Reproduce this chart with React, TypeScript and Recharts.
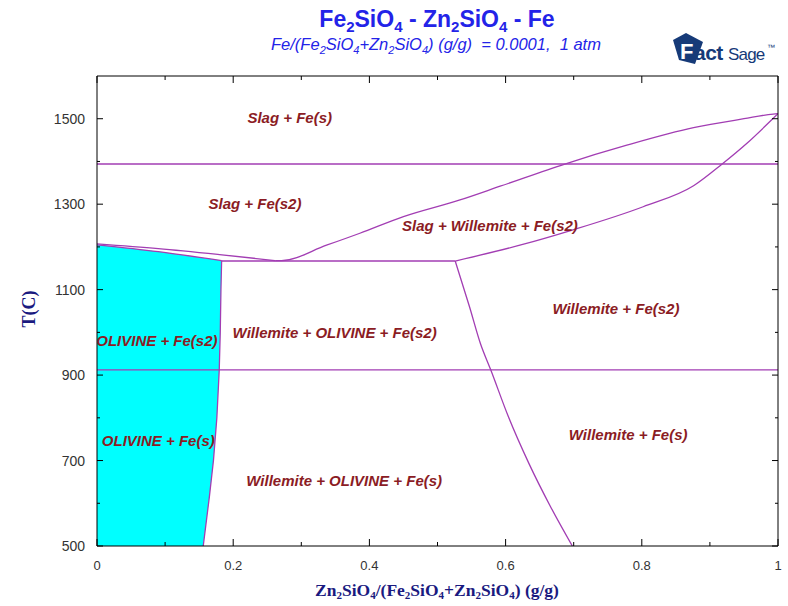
import React from 'react';
import { ComposedChart, Line, Area, Scatter, XAxis, YAxis } from 'recharts';

const ticksX = [0, 0.1, 0.2, 0.3, 0.4, 0.5, 0.6, 0.7, 0.8, 0.9, 1];
const ticksY = [500, 600, 700, 800, 900, 1000, 1100, 1200, 1300, 1400, 1500];

const gammaDeltaLine = [{ x: 0, t: 1394 }, { x: 1, t: 1394 }];
const alphaGammaLine = [{ x: 0, t: 912 }, { x: 1, t: 912 }];
const eutecticLine = [{ x: 0.183, t: 1167 }, { x: 0.526, t: 1167 }];
const olivineLiquidus = [
  { x: 0, t: 1207 }, { x: 0.09, t: 1196 }, { x: 0.18, t: 1182 }, { x: 0.262, t: 1168 },
];
const olivineSolidus = [
  { x: 0, t: 1205 }, { x: 0.09, t: 1189 }, { x: 0.183, t: 1168 },
];
const olivineSolvus = [
  { x: 0.183, t: 1168 }, { x: 0.182, t: 1100 }, { x: 0.181, t: 1000 }, { x: 0.1795, t: 912 },
  { x: 0.176, t: 800 }, { x: 0.171, t: 700 }, { x: 0.165, t: 615 }, { x: 0.156, t: 500 },
];
const olivineRegion = [
  { x: 0, t: 1205 }, { x: 0.09, t: 1189 }, { x: 0.183, t: 1168 }, { x: 0.182, t: 1100 },
  { x: 0.181, t: 1000 }, { x: 0.1795, t: 912 }, { x: 0.176, t: 800 }, { x: 0.171, t: 700 },
  { x: 0.165, t: 615 }, { x: 0.156, t: 500 },
];
const willemiteLiquidus = [
  { x: 0.262, t: 1168 }, { x: 0.271, t: 1168 }, { x: 0.337, t: 1204 }, { x: 0.386, t: 1232 },
  { x: 0.45, t: 1271 }, { x: 0.533, t: 1310 }, { x: 0.592, t: 1342 }, { x: 0.687, t: 1394 },
  { x: 0.778, t: 1438 }, { x: 0.876, t: 1479 }, { x: 0.95, t: 1500 }, { x: 0.993, t: 1511 },
  { x: 1, t: 1512 },
];
const willemiteSolidus = [
  { x: 0.526, t: 1167 }, { x: 0.621, t: 1204 }, { x: 0.699, t: 1240 }, { x: 0.802, t: 1294 },
  { x: 0.876, t: 1343 }, { x: 0.918, t: 1394 }, { x: 0.954, t: 1442 }, { x: 0.993, t: 1501 },
  { x: 1, t: 1512 },
];
const olivineWillemiteBoundary = [
  { x: 0.526, t: 1167 }, { x: 0.547, t: 1060 }, { x: 0.563, t: 974 }, { x: 0.578, t: 913 },
  { x: 0.604, t: 803 }, { x: 0.634, t: 694 }, { x: 0.666, t: 592 }, { x: 0.698, t: 500 },
];
const phaseLabels = [
  { x: 0.283, t: 1502, text: 'Slag + Fe(s)' },
  { x: 0.232, t: 1300, text: 'Slag + Fe(s2)' },
  { x: 0.577, t: 1249, text: 'Slag + Willemite + Fe(s2)' },
  { x: 0.762, t: 1055, text: 'Willemite + Fe(s2)' },
  { x: 0.088, t: 980, text: 'OLIVINE + Fe(s2)' },
  { x: 0.349, t: 998, text: 'Willemite + OLIVINE + Fe(s2)' },
  { x: 0.09, t: 746, text: 'OLIVINE + Fe(s)' },
  { x: 0.78, t: 760, text: 'Willemite + Fe(s)' },
  { x: 0.363, t: 652, text: 'Willemite + OLIVINE + Fe(s)' },
];

const PURPLE = '#A23DB3';
const LABEL_RED = '#8B1C24';
const NAVY = '#163A78';
const SANS = '"Liberation Sans", Arial, sans-serif';
const SERIF = '"Liberation Serif", "Times New Roman", serif';

const isMajorX = (v: number) => Math.round(v * 10) % 2 === 0;
const isMajorY = (v: number) => (Math.round(v) - 500) % 200 === 0;
const fmtX = (v: number) => (v === 0 ? '0' : v === 1 ? '1' : v.toFixed(1));

const BottomTick = (props: any) => {
  const { x, y, payload } = props;
  const v = payload.value;
  const major = isMajorX(v);
  return (
    <g>
      <line x1={x} x2={x} y1={y} y2={y - (major ? 7 : 4)} stroke="#000" />
      {major && (
        <text x={x} y={y + 24} textAnchor="middle" fontFamily={SANS} fontSize={13} fill="#333">
          {fmtX(v)}
        </text>
      )}
    </g>
  );
};
const TopTick = (props: any) => {
  const { x, y, payload } = props;
  const major = isMajorX(payload.value);
  return <line x1={x} x2={x} y1={y} y2={y + (major ? 7 : 4)} stroke="#000" />;
};
const LeftTick = (props: any) => {
  const { x, y, payload } = props;
  const v = payload.value;
  const major = isMajorY(v);
  return (
    <g>
      <line x1={x} x2={x + (major ? 6 : 3)} y1={y} y2={y} stroke="#000" />
      {major && (
        <text x={x - 12} y={y + 5} textAnchor="end" fontFamily={SANS} fontSize={14} fill="#333">
          {v}
        </text>
      )}
    </g>
  );
};
const RightTick = (props: any) => {
  const { x, y, payload } = props;
  const major = isMajorY(payload.value);
  return <line x1={x} x2={x - (major ? 6 : 3)} y1={y} y2={y} stroke="#000" />;
};

const LabelShape = (props: any) => {
  const { cx, cy, payload } = props;
  return (
    <text
      x={cx}
      y={cy + 5}
      textAnchor="middle"
      fontFamily={SANS}
      fontSize={15}
      fontWeight="bold"
      fontStyle="italic"
      fill={LABEL_RED}
    >
      {payload.text}
    </text>
  );
};

const straightBoundaries = [gammaDeltaLine, alphaGammaLine, eutecticLine, olivineSolvus];
const smoothBoundaries = [
  olivineLiquidus,
  olivineSolidus,
  willemiteLiquidus,
  willemiteSolidus,
  olivineWillemiteBoundary,
];

export default function App() {
  return (
    <div style={{ position: 'absolute', left: 0, top: 0, width: 788, height: 606, background: '#fff' }}>
      <ComposedChart width={788} height={606} margin={{ top: 75, right: 9, bottom: 30, left: 47 }}>
        <XAxis
          xAxisId="b"
          dataKey="x"
          type="number"
          domain={[0, 1]}
          ticks={ticksX}
          interval={0}
          height={30}
          tickSize={0}
          tickMargin={0}
          tick={<BottomTick />}
          axisLine={{ stroke: '#000' }}
          allowDataOverflow
        />
        <XAxis
          xAxisId="t"
          dataKey="x"
          orientation="top"
          type="number"
          domain={[0, 1]}
          ticks={ticksX}
          interval={0}
          height={1}
          tickSize={0}
          tickMargin={0}
          tick={<TopTick />}
          axisLine={{ stroke: '#000' }}
          allowDataOverflow
        />
        <YAxis
          yAxisId="l"
          type="number"
          domain={[500, 1600]}
          ticks={ticksY}
          interval={0}
          width={50}
          tickSize={0}
          tickMargin={0}
          tick={<LeftTick />}
          axisLine={{ stroke: '#000' }}
          allowDataOverflow
        />
        <YAxis
          yAxisId="r"
          orientation="right"
          type="number"
          domain={[500, 1600]}
          ticks={ticksY}
          interval={0}
          width={1}
          tickSize={0}
          tickMargin={0}
          tick={<RightTick />}
          axisLine={{ stroke: '#000' }}
          allowDataOverflow
        />
        <Area
          xAxisId="b"
          yAxisId="l"
          data={olivineRegion}
          dataKey="t"
          type="linear"
          baseValue={500}
          fill="#00FFFF"
          fillOpacity={1}
          stroke="none"
          isAnimationActive={false}
        />
        {straightBoundaries.map((d, i) => (
          <Line
            key={'s' + i}
            xAxisId="b"
            yAxisId="l"
            data={d}
            dataKey="t"
            type="linear"
            stroke={PURPLE}
            strokeWidth={1.3}
            dot={false}
            activeDot={false}
            isAnimationActive={false}
          />
        ))}
        {smoothBoundaries.map((d, i) => (
          <Line
            key={'c' + i}
            xAxisId="b"
            yAxisId="l"
            data={d}
            dataKey="t"
            type="monotone"
            stroke={PURPLE}
            strokeWidth={1.3}
            dot={false}
            activeDot={false}
            isAnimationActive={false}
          />
        ))}
        <Line
          xAxisId="t"
          yAxisId="r"
          data={gammaDeltaLine}
          dataKey="t"
          stroke="none"
          dot={false}
          activeDot={false}
          isAnimationActive={false}
        />
        <Scatter
          xAxisId="b"
          yAxisId="l"
          data={phaseLabels}
          dataKey="t"
          shape={<LabelShape />}
          isAnimationActive={false}
        />
      </ComposedChart>
      <svg
        width={788}
        height={606}
        style={{ position: 'absolute', left: 0, top: 0, pointerEvents: 'none' }}
      >
        <text
          x={437}
          y={27}
          textAnchor="middle"
          fontFamily={SANS}
          fontWeight="bold"
          fontSize={23}
          fill="#2323E8"
          style={{ whiteSpace: 'pre' }}
        >
          Fe<tspan fontSize={15} dy={5}>2</tspan>
          <tspan dy={-5}>SiO</tspan>
          <tspan fontSize={15} dy={5}>4</tspan>
          <tspan dy={-5}> - Zn</tspan>
          <tspan fontSize={15} dy={5}>2</tspan>
          <tspan dy={-5}>SiO</tspan>
          <tspan fontSize={15} dy={5}>4</tspan>
          <tspan dy={-5}> - Fe</tspan>
        </text>
        <text
          x={436}
          y={50}
          textAnchor="middle"
          fontFamily={SANS}
          fontStyle="italic"
          fontSize={16.5}
          fill="#2323E8"
          style={{ whiteSpace: 'pre' }}
        >
          Fe/(Fe<tspan fontSize={11} dy={4}>2</tspan>
          <tspan dy={-4}>SiO</tspan>
          <tspan fontSize={11} dy={4}>4</tspan>
          <tspan dy={-4}>+Zn</tspan>
          <tspan fontSize={11} dy={4}>2</tspan>
          <tspan dy={-4}>SiO</tspan>
          <tspan fontSize={11} dy={4}>4</tspan>
          <tspan dy={-4}>) (g/g)  = 0.0001,  1 atm</tspan>
        </text>
        <g>
          <polygon points="673,40 686,33 703,42 695,64 679,60" fill={NAVY} />
          <text x={680} y={59} fontFamily={SANS} fontWeight="bold" fontSize={22} fill="#ffffff">
            F
          </text>
          <text x={694} y={60} fontFamily={SANS} fontWeight="bold" fontSize={21} fill={NAVY} letterSpacing={-0.5}>
            act
          </text>
          <text x={728} y={60} fontFamily={SANS} fontSize={17} fill={NAVY} letterSpacing={-0.8}>
            Sage
          </text>
          <text x={767} y={50} fontFamily={SANS} fontSize={8} fill={NAVY}>
            ™
          </text>
        </g>
        <text
          x={0}
          y={0}
          transform="translate(29,309) rotate(-90)"
          textAnchor="middle"
          dominantBaseline="central"
          fontFamily={SERIF}
          fontWeight="bold"
          fontSize={18}
          fill="#1A1A80"
        >
          T(C)
        </text>
        <text
          x={437}
          y={596}
          textAnchor="middle"
          fontFamily={SERIF}
          fontWeight="bold"
          fontSize={17.5}
          fill="#1A1A80"
          style={{ whiteSpace: 'pre' }}
        >
          Zn<tspan fontSize={11} dy={3}>2</tspan>
          <tspan dy={-3}>SiO</tspan>
          <tspan fontSize={11} dy={3}>4</tspan>
          <tspan dy={-3}>/(Fe</tspan>
          <tspan fontSize={11} dy={3}>2</tspan>
          <tspan dy={-3}>SiO</tspan>
          <tspan fontSize={11} dy={3}>4</tspan>
          <tspan dy={-3}>+Zn</tspan>
          <tspan fontSize={11} dy={3}>2</tspan>
          <tspan dy={-3}>SiO</tspan>
          <tspan fontSize={11} dy={3}>4</tspan>
          <tspan dy={-3}>) (g/g)</tspan>
        </text>
      </svg>
    </div>
  );
}
